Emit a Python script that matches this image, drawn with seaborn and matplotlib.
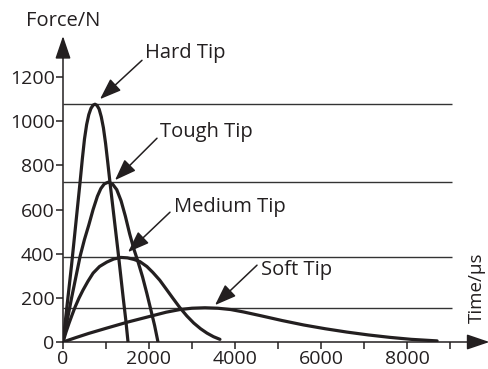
import numpy as np
import pandas as pd
import matplotlib
matplotlib.use('Agg')
import matplotlib.pyplot as plt
import seaborn as sns

# 数据
hard_t = [0, 100, 200, 300, 400, 450, 500, 550, 600, 650, 700, 744, 790, 840, 890, 940,
          990, 1040, 1100, 1160, 1220, 1280, 1340, 1400, 1460, 1512]
hard_f = [0, 175, 350, 540, 730, 830, 920, 985, 1030, 1058, 1073, 1077, 1072, 1055, 1020, 970,
          900, 815, 710, 610, 510, 410, 305, 200, 100, 0]

tough_t = [0, 100, 200, 300, 400, 500, 600, 700, 800, 880, 960, 1053, 1150, 1250, 1350, 1450,
           1550, 1650, 1750, 1850, 1950, 2050, 2130, 2209]
tough_f = [0, 100, 200, 295, 390, 465, 530, 600, 660, 695, 716, 724, 716, 690, 640, 570,
           490, 420, 360, 295, 220, 140, 75, 0]

medium_t = [0, 70, 140, 210, 280, 370, 465, 580, 700, 850, 1020, 1180, 1350, 1500, 1650, 1790,
            1950, 2090, 2250, 2400, 2560, 2720, 2880, 3040, 3200, 3350, 3500, 3650]
medium_f = [0, 45, 85, 122, 158, 198, 235, 275, 312, 342, 362, 376, 383, 381, 374, 364,
            342, 315, 280, 240, 197, 155, 118, 86, 60, 40, 24, 12]

soft_t = [0, 300, 600, 1000, 1500, 2000, 2400, 2720, 3000, 3300, 3600, 3900, 4200, 4600, 5100,
          5600, 6100, 6600, 7100, 7600, 8100, 8700]
soft_f = [0, 20, 39, 62, 90, 115, 135, 147, 153, 155, 153, 147, 136, 119, 97,
          77, 60, 45, 32, 21, 12, 5]

tips = ['Hard Tip', 'Tough Tip', 'Medium Tip', 'Soft Tip']
y_ticks = [0, 200, 400, 600, 800, 1000, 1200]
x_ticks = [0, 1000, 2000, 3000, 4000, 5000, 6000, 7000, 8000, 9000]
x_ticklabels = ['0', '', '2000', '', '4000', '', '6000', '', '8000', '']

df = pd.concat([
    pd.DataFrame({'t': hard_t, 'f': hard_f, 'tip': 'Hard Tip'}),
    pd.DataFrame({'t': tough_t, 'f': tough_f, 'tip': 'Tough Tip'}),
    pd.DataFrame({'t': medium_t, 'f': medium_f, 'tip': 'Medium Tip'}),
    pd.DataFrame({'t': soft_t, 'f': soft_f, 'tip': 'Soft Tip'}),
], ignore_index=True)

sns.set_theme(style='white')
plt.rcParams['font.family'] = ['Open Sans', 'DejaVu Sans']

ink = '#231f20'
fig = plt.figure(figsize=(4.88, 3.69), dpi=100)
ax = fig.add_axes([63 / 488, 27 / 369, 410 / 488, 287 / 369])

sns.lineplot(data=df, x='t', y='f', hue='tip', hue_order=tips,
             palette=[ink] * 4, sort=False, estimator=None,
             linewidth=2.3, legend=False, ax=ax)
for line in ax.get_lines():
    line.set_solid_joinstyle('round')

# 峰值水平线
for tip in tips:
    peak = df.loc[df['tip'] == tip, 'f'].max()
    ax.hlines(peak, 0, 9050, color='#333333', linewidth=1.0, zorder=1)

ax.set_xlim(0, 9535)
ax.set_ylim(0, 1300)
ax.set_xticks(x_ticks)
ax.set_xticklabels(x_ticklabels)
ax.set_yticks(y_ticks)
ax.set_xlabel('')
ax.set_ylabel('')
ax.tick_params(axis='both', which='both', direction='out', length=5, width=1.1,
               colors=ink, labelsize=14, pad=1, bottom=True, left=True)
for side in ['top', 'right']:
    ax.spines[side].set_visible(False)
for side in ['left', 'bottom']:
    ax.spines[side].set_color(ink)
    ax.spines[side].set_linewidth(1.1)

# 坐标轴箭头
head = dict(arrowstyle='-|>,head_length=0.5,head_width=0.17', color=ink,
            lw=1.1, mutation_scale=28, shrinkA=0, shrinkB=0)
ax.annotate('', xy=(0, 1.066), xytext=(0, 0.99), xycoords='axes fraction',
            arrowprops=head, annotation_clip=False)
ax.annotate('', xy=(1.04, 0), xytext=(0.99, 0), xycoords='axes fraction',
            arrowprops=head, annotation_clip=False)

fig.text(26 / 488, 1 - 21 / 369, 'Force/N', ha='left', va='center', fontsize=14.5, color=ink)
fig.text(477 / 488, 1 - 288 / 369, 'Time/\u00b5s', ha='center', va='center',
         rotation=90, fontsize=13.5, color=ink)

# 标注
labels_pos = [(145, 53), (160, 132), (174, 207), (261, 270)]
arrow_tail = [(1837, 1276), (2186, 923), (2488, 588), (4512, 348)]
arrow_tip = [(860, 1100), (1209, 733), (1512, 407), (3535, 167)]
pointer = dict(arrowstyle='-|>,head_length=0.6,head_width=0.22', color=ink,
               lw=1.1, mutation_scale=22, shrinkA=0, shrinkB=0)
for tip, (px, py), tail, point in zip(tips, labels_pos, arrow_tail, arrow_tip):
    ax.annotate('', xy=point, xytext=tail, arrowprops=pointer, annotation_clip=False)
    fig.text(px / 488, 1 - py / 369, tip, ha='left', va='center', fontsize=14.5, color=ink)

plt.savefig('out.png', dpi=100)
plt.close()
